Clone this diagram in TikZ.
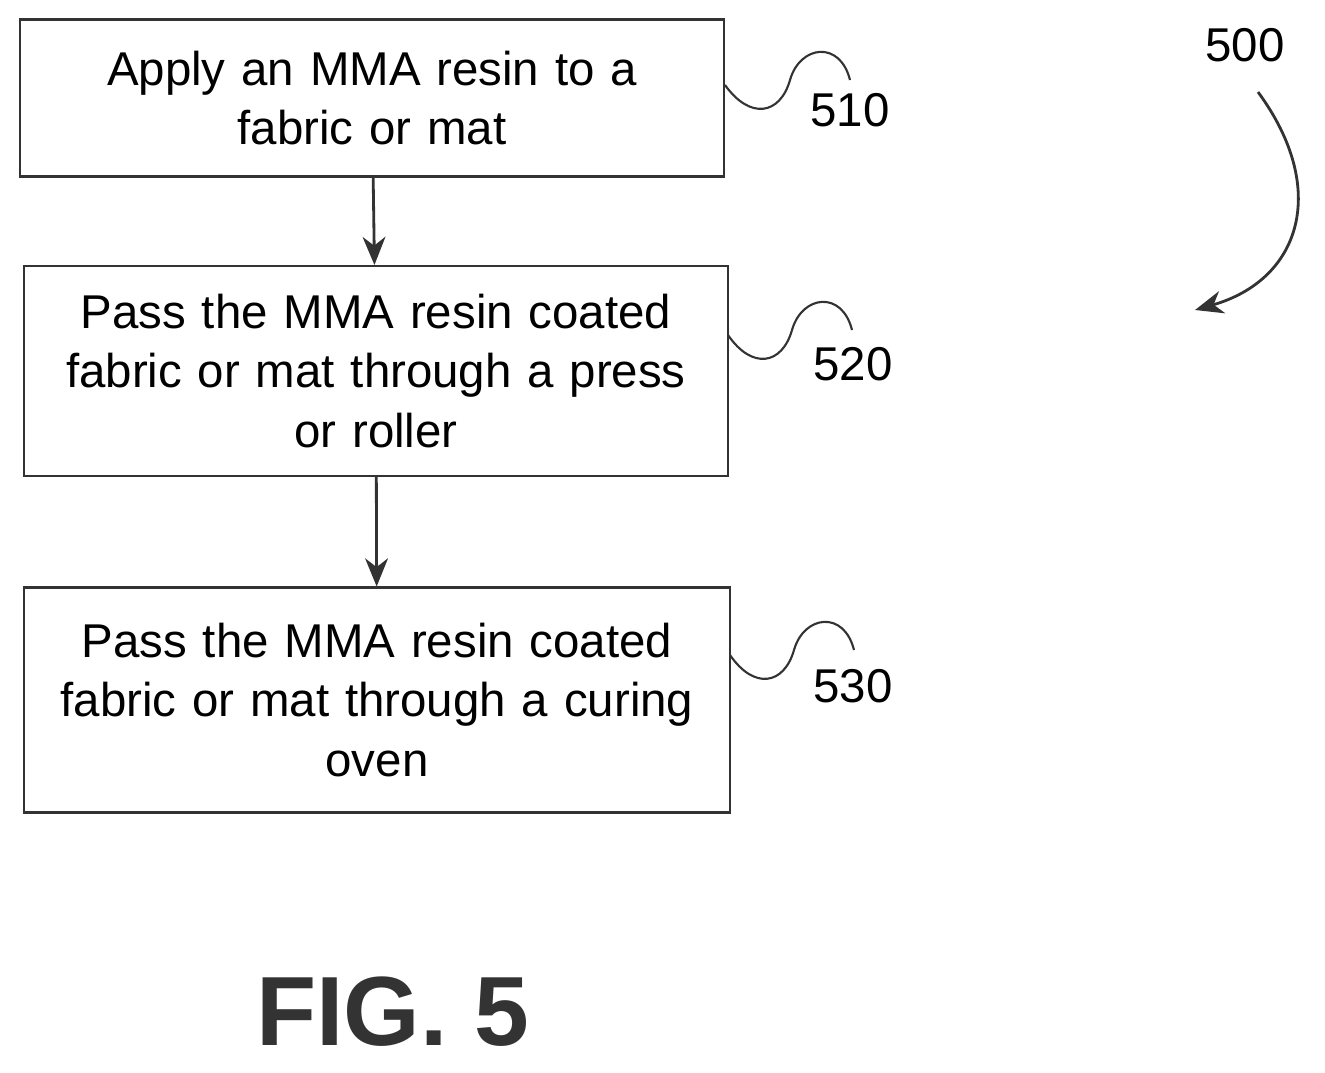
\documentclass[tikz,border=0pt]{standalone}
\usepackage{fontspec}
\setmainfont{Liberation Sans}
\usetikzlibrary{positioning, arrows.meta}
\begin{document}
\begin{tikzpicture}[
    x=0.02cm, y=-0.02cm,
    every node/.style={font=\fontsize{27}{34}\selectfont},
    stepbox/.style={draw=black!80, line width=1.2pt, align=center, inner sep=0pt},
    arrow/.style={-{Stealth[length=16pt, width=13pt, inset=5pt]}, line width=1.6pt, draw=black!80},
    squig/.style={line width=1.2pt, draw=black!80}
  ]
  \useasboundingbox (0,0) rectangle (1325,1072);

  % Steps
  \node[stepbox, text width=12.6cm, minimum width=14.1cm, minimum height=3.14cm] (s510) at (372,98) {Apply an MMA resin to a\\fabric or mat};
  \node[stepbox, text width=12.6cm, minimum width=14.08cm, minimum height=4.2cm] (s520) at (376,371) {Pass the MMA resin coated\\fabric or mat through a press\\or roller};
  \node[stepbox, text width=13cm, minimum width=14.12cm, minimum height=4.5cm] (s530) at (377,700) {Pass the MMA resin coated\\fabric or mat through a curing\\oven};

  % Reference labels
  \node (l510) at (850,110) {510};
  \node (l520) at (853,364) {520};
  \node (l530) at (853,686) {530};
  \node (l500) at (1245,45) {500};
  \node[font=\fontsize{56}{64}\selectfont\bfseries, text=black!80] (fig) at (393,1012) {FIG. 5};

  % Arrows
  \draw[arrow] (s510) -- (s520);
  \draw[arrow] (s520) -- (s530);
  \coordinate (c500) at (1195,310);
  \draw[arrow] (1258,92) .. controls (1330,190) and (1300,280) .. (c500);

  % Leaders
  \coordinate (e510) at (725,85);
  \coordinate (e520) at (728,335);
  \coordinate (e530) at (730,655);
  \draw[squig] (e510) .. controls (750,120) and (780,115) .. (790,80) .. controls (800,45) and (840,40) .. (850,80);
  \draw[squig] (e520) .. controls (752,370) and (782,365) .. (792,330) .. controls (802,295) and (842,290) .. (852,330);
  \draw[squig] (e530) .. controls (754,690) and (784,685) .. (794,650) .. controls (804,615) and (844,610) .. (854,650);
\end{tikzpicture}
\end{document}
